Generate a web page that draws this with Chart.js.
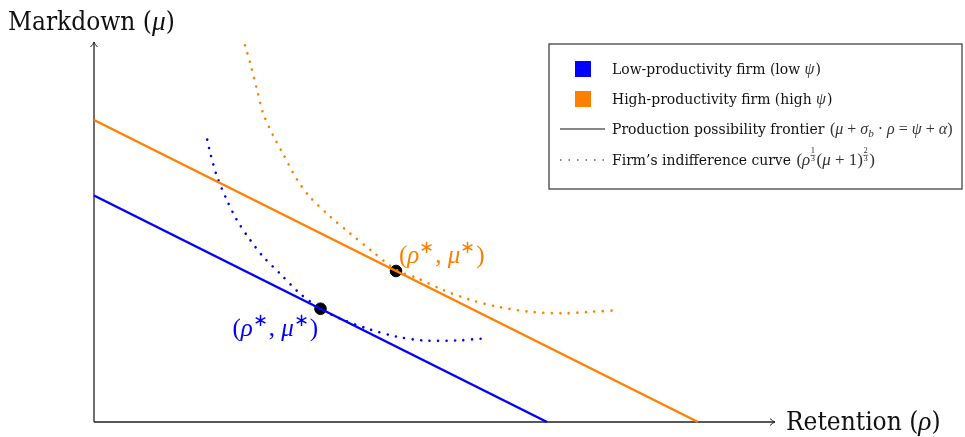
<!DOCTYPE html>
<html>
<head>
<meta charset="utf-8">
<script src="https://cdn.jsdelivr.net/npm/chart.js@4.4.1/dist/chart.umd.min.js"></script>
<style>
  body { margin: 0; background: #fff; }
  #wrap { width: 965px; height: 437px; position: relative; }
</style>
</head>
<body>
<div id="wrap"><canvas id="markdownChart"></canvas></div>
<script>
// production possibility frontiers (mu + 0.5 rho = const)
const lowFrontierX = [0, 6];
const lowFrontierY = [3, 0];
const highFrontierX = [0, 8];
const highFrontierY = [4, 0];

// indifference curves
const lowCurveX = [1.50, 1.54, 1.63, 1.76, 1.89, 2.07, 2.24, 2.46, 2.73, 3.02, 3.26, 3.61, 4.01, 4.36, 4.80, 5.20];
const lowCurveY = [3.74, 3.56, 3.25, 2.94, 2.68, 2.41, 2.19, 1.97, 1.70, 1.49, 1.37, 1.24, 1.13, 1.08, 1.08, 1.11];
const highCurveX = [2.00, 2.07, 2.16, 2.24, 2.38, 2.50, 2.69, 2.86, 3.13, 3.39, 3.66, 4.01, 4.27, 4.62, 4.98, 5.33, 5.78, 6.21, 6.57, 6.94];
const highCurveY = [4.99, 4.75, 4.40, 4.09, 3.78, 3.56, 3.21, 2.98, 2.72, 2.50, 2.28, 2.01, 1.91, 1.75, 1.62, 1.53, 1.46, 1.44, 1.46, 1.48];

// optimal points
const optimumX = [3, 4];
const optimumY = [1.5, 2];

const legendLabels = [
  "Low-productivity firm (low ",
  "High-productivity firm (high ",
  "Production possibility frontier ",
  "Firm\u2019s indifference curve "
];

const BLUE = "#0000ff";
const ORANGE = "#ff8000";
const TEXT_FONT = "'DejaVu Serif Condensed', 'DejaVu Serif'";
const MATH_FONT = "'Liberation Serif'";

const pts = (xs, ys) => xs.map((x, i) => ({ x: x, y: ys[i] }));

// draws a run of text pieces, italic / superscript / stacked fractions
function drawRich(ctx, x, y, parts, size, color) {
  ctx.fillStyle = color;
  ctx.strokeStyle = color;
  ctx.textBaseline = "alphabetic";
  ctx.textAlign = "left";
  for (const p of parts) {
    if (p.frac) {
      const fs = size * 0.5;
      ctx.font = fs + "px " + MATH_FONT;
      const w = Math.max(ctx.measureText(p.frac[0]).width, ctx.measureText(p.frac[1]).width) + 1;
      ctx.textAlign = "center";
      ctx.fillText(p.frac[0], x + w / 2, y - size * 0.72);
      ctx.fillText(p.frac[1], x + w / 2, y - size * 0.22);
      ctx.textAlign = "left";
      ctx.lineWidth = 0.6;
      ctx.beginPath();
      ctx.moveTo(x, y - size * 0.57);
      ctx.lineTo(x + w, y - size * 0.57);
      ctx.stroke();
      x += w + 1;
      continue;
    }
    const s = size * (p.s || 1);
    ctx.font = (p.i ? "italic " : "") + s + "px " + (p.f || MATH_FONT);
    ctx.fillText(p.t, x, y + (p.dy || 0) * size);
    x += ctx.measureText(p.t).width + (p.sp || 0);
  }
  return x;
}

function optimumLabel() {
  return [
    { t: "(" },
    { t: "\u03c1", i: true },
    { t: "\u2217", s: 0.7, dy: -0.4, sp: 1 },
    { t: ", " },
    { t: "\u03bc", i: true },
    { t: "\u2217", s: 0.7, dy: -0.4, sp: 1 },
    { t: ")" }
  ];
}

const decorPlugin = {
  id: "decor",
  beforeDatasetsDraw(chart) {
    const ctx = chart.ctx;
    const xs = chart.scales.x, ys = chart.scales.y;
    const x0 = xs.getPixelForValue(0), y0 = ys.getPixelForValue(0);
    ctx.save();
    ctx.strokeStyle = "#222";
    ctx.lineWidth = 1.3;
    ctx.beginPath();
    ctx.moveTo(x0, y0);
    ctx.lineTo(x0, 42);
    ctx.moveTo(x0, y0);
    ctx.lineTo(775, y0);
    ctx.stroke();
    // arrow heads
    ctx.lineWidth = 1;
    ctx.beginPath();
    ctx.moveTo(x0 - 3.5, 47);
    ctx.quadraticCurveTo(x0 - 0.5, 44, x0, 42);
    ctx.quadraticCurveTo(x0 + 0.5, 44, x0 + 3.5, 47);
    ctx.moveTo(770, y0 - 3.5);
    ctx.quadraticCurveTo(773, y0 - 0.5, 775, y0);
    ctx.quadraticCurveTo(773, y0 + 0.5, 770, y0 + 3.5);
    ctx.stroke();
    ctx.restore();
  },
  afterDraw(chart) {
    const ctx = chart.ctx;
    const xs = chart.scales.x, ys = chart.scales.y;
    ctx.save();

    // axis titles
    drawRich(ctx, 8, 30, [
      { t: "Markdown (", f: TEXT_FONT },
      { t: "\u03bc", i: true, s: 1.05 },
      { t: ")", f: TEXT_FONT }
    ], 26, "#111");
    drawRich(ctx, 786, 430, [
      { t: "Retention (", f: TEXT_FONT },
      { t: "\u03c1", i: true, s: 1.05 },
      { t: ")", f: TEXT_FONT }
    ], 26, "#111");

    // optimum labels
    const hx = xs.getPixelForValue(optimumX[1]), hy = ys.getPixelForValue(optimumY[1]);
    drawRich(ctx, hx + 3, hy - 8, optimumLabel(), 25, ORANGE);
    const lx = xs.getPixelForValue(optimumX[0]), ly = ys.getPixelForValue(optimumY[0]);
    drawRich(ctx, lx - 88, ly + 27, optimumLabel(), 25, BLUE);

    // legend box
    ctx.strokeStyle = "#444";
    ctx.lineWidth = 1.3;
    ctx.strokeRect(549, 44, 413, 145);

    ctx.fillStyle = BLUE;
    ctx.fillRect(575, 61, 16, 16);
    ctx.fillStyle = ORANGE;
    ctx.fillRect(575, 91, 16, 16);
    ctx.strokeStyle = "#888";
    ctx.lineWidth = 2;
    ctx.beginPath();
    ctx.moveTo(560, 129);
    ctx.lineTo(605, 129);
    ctx.stroke();
    ctx.setLineDash([1.5, 7]);
    ctx.beginPath();
    ctx.moveTo(560, 160);
    ctx.lineTo(605, 160);
    ctx.stroke();
    ctx.setLineDash([]);

    const tx = 612, size = 15.5, msize = 16, col = "#111", mcol = "#333";
    let x = drawRich(ctx, tx, 74, [{ t: legendLabels[0], f: TEXT_FONT }], size, col);
    x = drawRich(ctx, x, 74, [{ t: "\u03c8", i: true, sp: 1 }], msize, mcol);
    drawRich(ctx, x, 74, [{ t: ")", f: TEXT_FONT }], size, col);

    x = drawRich(ctx, tx, 104, [{ t: legendLabels[1], f: TEXT_FONT }], size, col);
    x = drawRich(ctx, x, 104, [{ t: "\u03c8", i: true, sp: 1 }], msize, mcol);
    drawRich(ctx, x, 104, [{ t: ")", f: TEXT_FONT }], size, col);

    x = drawRich(ctx, tx, 134, [{ t: legendLabels[2], f: TEXT_FONT }], size, col);
    drawRich(ctx, x + 1, 134, [
      { t: "(" },
      { t: "\u03bc", i: true },
      { t: " + " },
      { t: "\u03c3", i: true },
      { t: "b", i: true, s: 0.7, dy: 0.2 },
      { t: " \u00b7 " },
      { t: "\u03c1", i: true },
      { t: " = " },
      { t: "\u03c8", i: true },
      { t: " + " },
      { t: "\u03b1", i: true },
      { t: ")" }
    ], msize, mcol);

    x = drawRich(ctx, tx, 165, [{ t: legendLabels[3], f: TEXT_FONT }], size, col);
    drawRich(ctx, x + 1, 165, [
      { t: "(" },
      { t: "\u03c1", i: true },
      { frac: ["1", "3"] },
      { t: "(" },
      { t: "\u03bc", i: true },
      { t: " + 1)" },
      { frac: ["2", "3"] },
      { t: ")" }
    ], 17, mcol);

    ctx.restore();
  }
};

new Chart(document.getElementById("markdownChart"), {
  type: "scatter",
  data: {
    datasets: [
      {
        data: pts(lowFrontierX, lowFrontierY),
        showLine: true,
        borderColor: BLUE,
        borderWidth: 2.5,
        pointRadius: 0
      },
      {
        data: pts(highFrontierX, highFrontierY),
        showLine: true,
        borderColor: ORANGE,
        borderWidth: 2.5,
        pointRadius: 0
      },
      {
        data: pts(lowCurveX, lowCurveY),
        showLine: true,
        borderColor: BLUE,
        borderWidth: 2.6,
        borderDash: [0.01, 8.5],
        borderCapStyle: "round",
        tension: 0.3,
        pointRadius: 0
      },
      {
        data: pts(highCurveX, highCurveY),
        showLine: true,
        borderColor: ORANGE,
        borderWidth: 2.6,
        borderDash: [0.01, 8.5],
        borderCapStyle: "round",
        tension: 0.3,
        pointRadius: 0
      },
      {
        data: pts(optimumX, optimumY),
        showLine: false,
        backgroundColor: "#000",
        borderColor: "#000",
        pointRadius: 5.8
      }
    ]
  },
  options: {
    responsive: true,
    maintainAspectRatio: false,
    animation: false,
    clip: false,
    layout: { padding: { left: 94, right: 191.5, top: 44.5, bottom: 15 } },
    plugins: {
      legend: { display: false },
      tooltip: { enabled: false }
    },
    scales: {
      x: { type: "linear", min: 0, max: 9, display: false },
      y: { type: "linear", min: 0, max: 5, display: false }
    }
  },
  plugins: [decorPlugin]
});
</script>
</body>
</html>
